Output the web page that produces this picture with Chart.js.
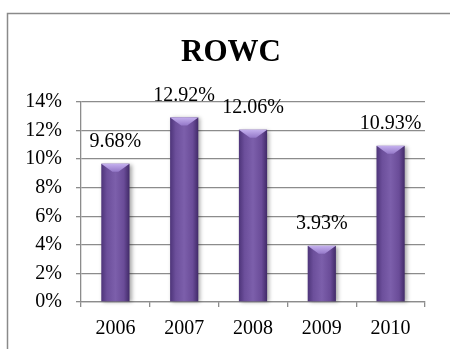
<!DOCTYPE html>
<html>
<head>
<meta charset="utf-8">
<script src="https://cdn.jsdelivr.net/npm/chart.js@4.4.1/dist/chart.umd.min.js"></script>
<style>
  html, body { margin: 0; padding: 0; background: #fff; }
  #wrap { width: 450px; height: 349px; position: relative; }
</style>
</head>
<body>
<div id="wrap"><canvas id="myChart" width="450" height="349"></canvas></div>
<script>
var years = ['2006', '2007', '2008', '2009', '2010'];
var rowc = [9.68, 12.92, 12.06, 3.93, 10.93];
var yTicks = [0, 2, 4, 6, 8, 10, 12, 14];

var serif = "'Liberation Serif', 'Times New Roman', serif";
var gridGray = '#8c8c8c';

// frame + title drawn behind everything
var framePlugin = {
    id: 'frame',
    beforeDraw: function(chart) {
        var c = chart.ctx;
        c.save();
        c.strokeStyle = '#8a8a8a';
        c.lineWidth = 1.5;
        c.beginPath();
        c.moveTo(7.5, 349);
        c.lineTo(7.5, 13.5);
        c.lineTo(450, 13.5);
        c.stroke();
        c.fillStyle = '#000';
        c.font = 'bold 31px ' + serif;
        c.textAlign = 'center';
        c.textBaseline = 'middle';
        c.fillText('ROWC', 231, 53);
        c.restore();
    }
};

// shading of the bars and the value labels
var barLook = {
    id: 'barLook',
    afterDatasetsDraw: function(chart) {
        var c = chart.ctx;
        var meta = chart.getDatasetMeta(0);
        meta.data.forEach(function(bar, i) {
            var w = bar.width, l = bar.x - w / 2, r = bar.x + w / 2;
            var top = bar.y, bot = bar.base;
            c.save();
            var g = c.createLinearGradient(l, 0, r, 0);
            g.addColorStop(0, '#4d3479');
            g.addColorStop(0.2, '#6c4f9b');
            g.addColorStop(0.5, '#7c5fab');
            g.addColorStop(0.8, '#6a4c98');
            g.addColorStop(1, '#412a68');
            c.shadowColor = 'rgba(0,0,0,0.35)';
            c.shadowBlur = 4;
            c.shadowOffsetX = 2;
            c.shadowOffsetY = 1;
            c.fillStyle = g;
            c.fillRect(l, top, w, bot - top);
            c.shadowColor = 'transparent';
            // bevel at the top
            var tg = c.createLinearGradient(0, top, 0, top + 9);
            tg.addColorStop(0, '#c4b0ee');
            tg.addColorStop(1, '#8f72c4');
            c.fillStyle = tg;
            c.beginPath();
            c.moveTo(l, top);
            c.lineTo(r, top);
            c.lineTo(bar.x + 3, top + 8);
            c.lineTo(bar.x - 3, top + 8);
            c.closePath();
            c.fill();
            c.restore();

            c.save();
            c.fillStyle = '#000';
            c.font = '20px ' + serif;
            c.textAlign = 'center';
            c.textBaseline = 'middle';
            c.fillText(rowc[i].toFixed(2) + '%', bar.x, top - 22);
            c.restore();
        });
    }
};

var ctx = document.getElementById('myChart').getContext('2d');
var chart = new Chart(ctx, {
    type: 'bar',
    data: {
        labels: years,
        datasets: [{
            label: 'ROWC',
            data: rowc,
            backgroundColor: 'rgba(0,0,0,0)',
            barPercentage: 0.41,
            categoryPercentage: 1
        }]
    },
    options: {
        responsive: false,
        animation: false,
        layout: { padding: { left: 7, top: 102, right: 25, bottom: 0 } },
        plugins: { legend: { display: false }, tooltip: { enabled: false } },
        scales: {
            x: {
                afterFit: function(s) { s.height = 47; },
                grid: { offset: true, drawOnChartArea: false, drawTicks: true, tickLength: 5, color: gridGray, lineWidth: 1.3 },
                border: { color: gridGray, width: 1.3 },
                ticks: { color: '#000', font: { family: serif, size: 20 }, padding: 10 }
            },
            y: {
                min: 0,
                max: 14,
                afterFit: function(s) { s.width = 74; },
                afterBuildTicks: function(s) { s.ticks = yTicks.map(function(v) { return { value: v }; }); },
                grid: { color: gridGray, lineWidth: 1.3, tickLength: 5 },
                border: { color: gridGray, width: 1.3 },
                ticks: {
                    color: '#000',
                    font: { family: serif, size: 20 },
                    padding: 14,
                    callback: function(v) { return v + '%'; }
                }
            }
        }
    },
    plugins: [framePlugin, barLook]
});
</script>
</body>
</html>
